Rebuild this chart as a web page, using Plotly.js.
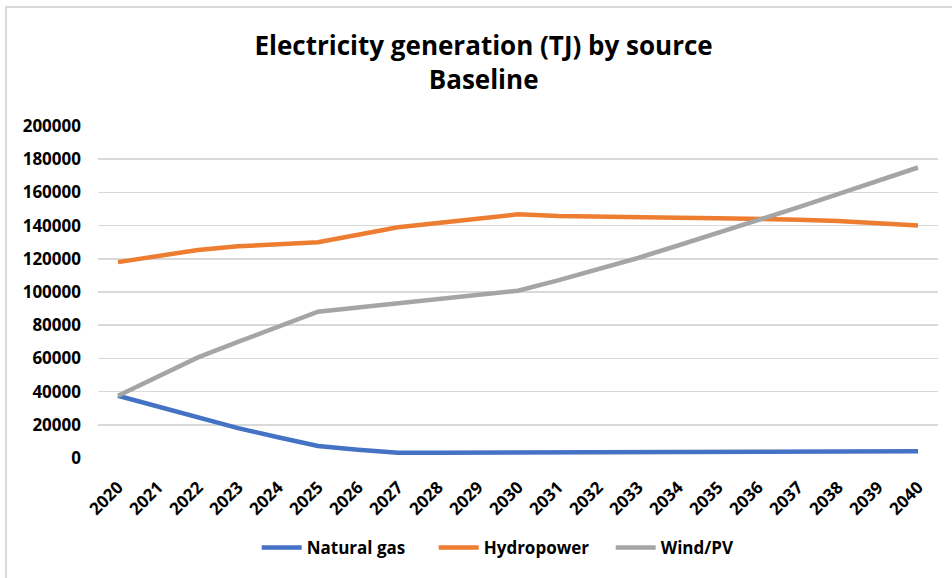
<!DOCTYPE html>
<html>
<head>
<meta charset="utf-8">
<script src="https://cdn.plot.ly/plotly-3.0.1.min.js"></script>
<style>
html,body{margin:0;padding:0;background:#fff;}
#wrap{position:relative;width:952px;height:578px;}
#frame{position:absolute;left:5px;top:6px;width:960px;height:590px;border:2px solid #d9d9d9;box-sizing:border-box;pointer-events:none;z-index:5;}
#chart{position:absolute;left:0;top:0;width:952px;height:578px;}
</style>
</head>
<body>
<div id="wrap"><div id="chart"></div><div id="frame"></div></div>
<script>
const years = ["2020","2021","2022","2023","2024","2025","2026","2027","2028","2029","2030","2031","2032","2033","2034","2035","2036","2037","2038","2039","2040"];
const naturalGas = [37500,31000,24500,18000,12500,7200,5000,3200,3200,3300,3400,3500,3500,3600,3600,3700,3700,3800,3800,3900,4000];
const hydropower = [118000,121700,125300,127500,128700,130000,134500,139000,141500,144000,146800,145800,145300,145000,144700,144500,144200,143500,142800,141500,140000];
const windPV = [37500,49000,60600,70000,79000,88100,90600,93100,95700,98200,100800,107000,113500,120500,128000,135500,143500,151000,159000,167000,175000];
const yTicks = [0,20000,40000,60000,80000,100000,120000,140000,160000,180000,200000];

const font = "Open Sans, Liberation Sans, sans-serif";
const traces = [
  {x: years, y: naturalGas, name: "Natural gas", type: "scatter", mode: "lines", line: {color: "#4472C4", width: 4.5}},
  {x: years, y: hydropower, name: "Hydropower", type: "scatter", mode: "lines", line: {color: "#ED7D31", width: 4.5}},
  {x: years, y: windPV, name: "Wind/PV", type: "scatter", mode: "lines", line: {color: "#A5A5A5", width: 4.5}}
];
const layout = {
  width: 952, height: 578,
  margin: {l: 98, r: 14, t: 126, b: 120, autoexpand: false},
  paper_bgcolor: "#fff", plot_bgcolor: "#fff",
  font: {family: font, color: "#000"},
  title: {text: "<b>Electricity generation (TJ) by source<br>Baseline</b>", x: 0.508, xanchor: "center", yref: "container", y: 0.905, yanchor: "top", font: {size: 26, family: font, color: "#000"}},
  xaxis: {type: "category", range: [-0.5, 20.5], tickangle: -45, showgrid: false, zeroline: false, showline: false, ticks: "", ticklabelstandoff: 15, tickfont: {size: 17, family: font, color: "#000", weight: "bold"}, fixedrange: true, automargin: false},
  yaxis: {range: [0, 200000], tickvals: yTicks, ticktext: yTicks.map(String), showgrid: true, gridcolor: "#d9d9d9", gridwidth: 1.5, zeroline: false, showline: false, ticks: "", ticklabelstandoff: 16, tickfont: {size: 17, family: font, color: "#000", weight: "bold"}, fixedrange: true, automargin: false},
  showlegend: true,
  legend: {orientation: "h", x: 0.505, xanchor: "center", yref: "container", y: 0.052, yanchor: "middle", font: {size: 17, family: font, color: "#000", weight: "bold"}, itemwidth: 40, entrywidth: 122, tracegroupgap: 0}
};
Plotly.newPlot("chart", traces, layout, {displayModeBar: false, staticPlot: true});
</script>
</body>
</html>
